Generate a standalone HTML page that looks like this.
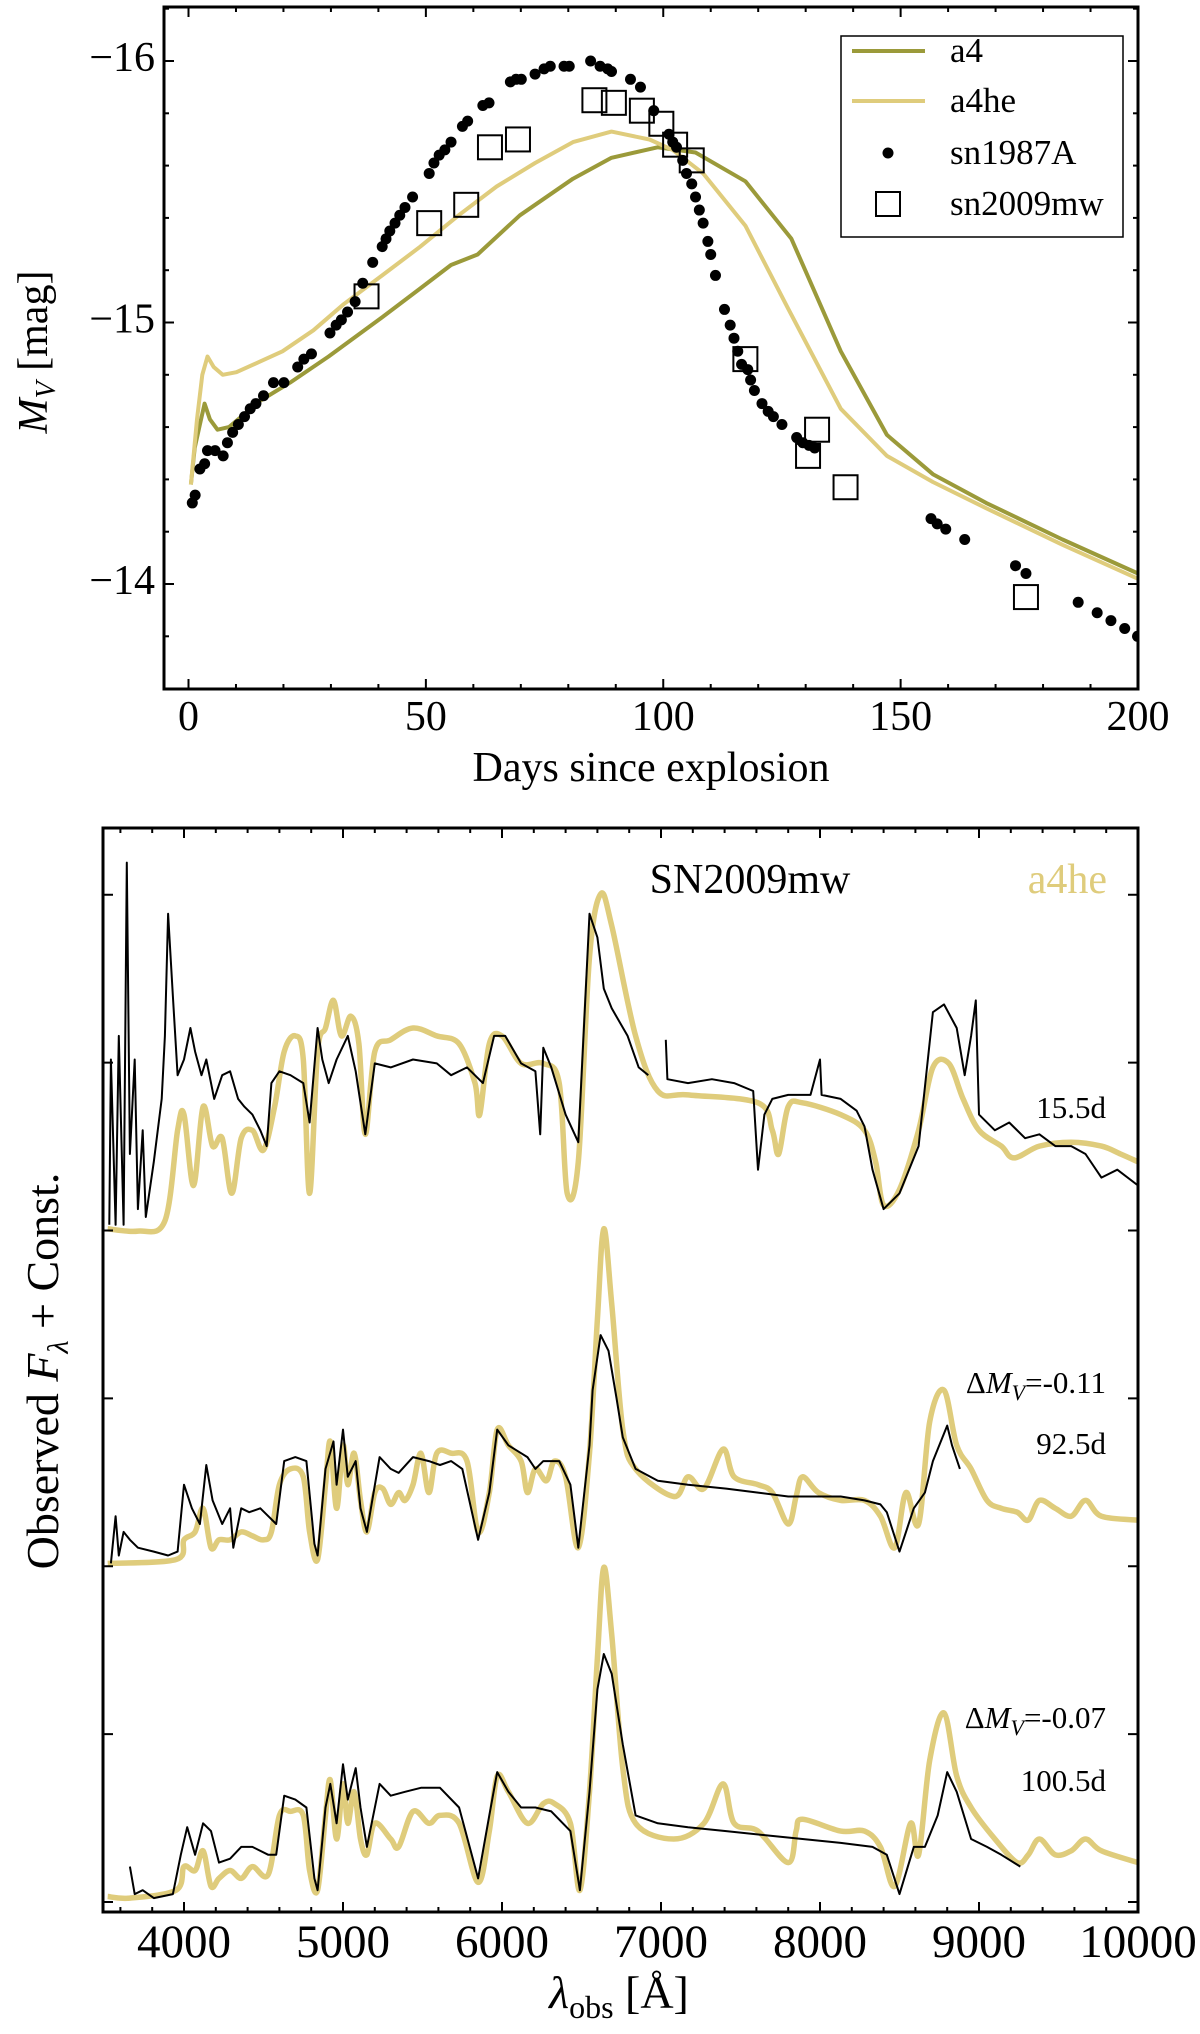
<!DOCTYPE html>
<html><head><meta charset="utf-8"><style>
html,body{margin:0;padding:0;background:#fff;}
svg{display:block;font-family:"Liberation Serif",serif;}
</style></head><body>
<svg id="fig" width="1200" height="2034" viewBox="0 0 1200 2034" xmlns="http://www.w3.org/2000/svg"></svg>
<script>
// ---------- Top panel data ----------
const a4Days=[0.5,1.3,2.4,3.4,4.5,6.1,8.5,11.8,15.0,21.4,29.5,40.8,48.8,55.3,60.9,69.8,81.0,89.1,98.8,106.8,117.3,127.0,137.4,147.1,156.8,168.0,184.1,200];
const a4Mag=[-14.38,-14.52,-14.61,-14.69,-14.63,-14.59,-14.60,-14.65,-14.70,-14.77,-14.87,-15.02,-15.13,-15.22,-15.26,-15.41,-15.55,-15.63,-15.67,-15.65,-15.54,-15.32,-14.89,-14.57,-14.42,-14.31,-14.17,-14.04];
const a4heDays=[0.5,1.8,2.9,4.0,5.3,7.2,10.1,15.0,19.8,26.3,32.7,40.8,48.8,56.9,64.9,73.0,81.0,89.1,97.1,102,108.4,117.3,126.1,137.4,147.1,156.8,168.0,184.1,200];
const a4heMag=[-14.38,-14.63,-14.80,-14.87,-14.83,-14.80,-14.81,-14.85,-14.89,-14.97,-15.07,-15.18,-15.29,-15.41,-15.52,-15.61,-15.69,-15.73,-15.70,-15.66,-15.57,-15.37,-15.06,-14.67,-14.49,-14.39,-14.29,-14.15,-14.02];
const sn87Days=[0.8,1.4,2.4,3.4,4.0,5.6,7.3,8.2,9.3,10.5,11.8,13.0,14.2,15.8,17.9,20.1,23.0,24.3,25.9,29.8,31.1,32.2,33.5,35.1,36.7,38.8,40.8,41.6,42.4,43.5,44.5,45.6,47.2,50.7,51.7,52.8,54.0,55.3,57.7,58.8,62.0,63.3,67.8,69.0,70.1,73.0,74.9,76.2,79.1,80.2,84.7,86.7,88.3,89.1,93.1,95.2,98.0,101.2,102.0,102.8,104.1,104.9,106.0,106.8,107.6,108.4,109.4,110.0,111.0,112.9,114.1,114.9,115.7,116.5,117.8,118.4,119.2,120.8,122.1,123.2,125.0,128.1,129.4,130.7,131.9,156.4,157.7,159.5,163.5,174.2,176.4,187.4,191.4,194.3,197.2,199.9];
const sn87Mag=[-14.31,-14.34,-14.44,-14.46,-14.51,-14.51,-14.49,-14.54,-14.58,-14.61,-14.64,-14.67,-14.69,-14.72,-14.77,-14.77,-14.83,-14.86,-14.88,-14.96,-14.99,-15.01,-15.04,-15.08,-15.15,-15.23,-15.29,-15.32,-15.35,-15.38,-15.41,-15.44,-15.48,-15.57,-15.61,-15.64,-15.66,-15.69,-15.75,-15.77,-15.83,-15.84,-15.92,-15.93,-15.93,-15.95,-15.97,-15.98,-15.98,-15.98,-16.00,-15.98,-15.97,-15.96,-15.93,-15.90,-15.81,-15.72,-15.69,-15.67,-15.62,-15.57,-15.53,-15.48,-15.43,-15.38,-15.31,-15.26,-15.18,-15.05,-14.99,-14.94,-14.89,-14.84,-14.82,-14.78,-14.74,-14.69,-14.66,-14.64,-14.61,-14.56,-14.54,-14.53,-14.52,-14.25,-14.23,-14.21,-14.17,-14.07,-14.04,-13.93,-13.89,-13.86,-13.83,-13.80];
const sn09Days=[37.5,50.7,58.5,63.5,69.4,85.5,89.6,95.5,99.6,102.5,106.0,117.3,130.5,132.4,138.4,176.4];
const sn09Mag=[-15.10,-15.38,-15.45,-15.67,-15.70,-15.85,-15.84,-15.81,-15.76,-15.68,-15.62,-14.86,-14.49,-14.59,-14.37,-13.95];
const dayTicks=[0,50,100,150,200];
const magTicks=[-16,-15,-14];

// ---------- Bottom panel data (flux in arbitrary units) ----------
const m1W=[3520,3710,3880,3960,4000,4060,4120,4180,4240,4300,4360,4430,4500,4570,4630,4700,4750,4790,4840,4890,4940,4990,5050,5100,5140,5200,5300,5440,5590,5730,5830,5860,5920,6000,6120,6260,6360,6410,6480,6550,6620,6690,6840,6980,7170,7610,7700,7740,7800,7890,8130,8280,8350,8400,8500,8620,8710,8810,8900,9000,9140,9220,9380,9580,9770,9890,10000];
const m1F=[85.5,85.2,86.5,98,100,91,101,96,97,90,97,98,95.5,101,108,110,107,90,108,111,114.5,110,112.5,109,97.5,108,109.5,111,110,109,104,100,109,110,106.5,106.5,104,90,94,120,128,124,110,103,102.5,101.5,98,95,101,101.5,100,98,94,88.5,90.5,98,106,106.5,102,98,96,94.5,96,96.5,96,95,94];
const o1W=[3530,3540,3570,3590,3620,3640,3660,3690,3710,3740,3760,3810,3860,3880,3900,3930,3960,4000,4040,4070,4110,4140,4190,4240,4290,4340,4380,4430,4480,4520,4550,4600,4670,4750,4790,4840,4870,4910,4960,5030,5080,5140,5200,5300,5440,5590,5680,5780,5880,5950,6020,6120,6210,6240,6260,6310,6400,6480,6550,6600,6640,6690,6790,6860,6920,null,7030,7040,7170,7320,7460,7580,7610,7650,7700,7800,7940,8000,8010,8130,8230,8280,8330,8400,8500,8620,8710,8780,8860,8910,8950,8980,9000,9100,9190,9290,9380,9480,9580,9670,9770,9870,10000];
const o1F=[86,107,86,110,86,132,95,107,88,98,87,94,102,110,125.5,115,105,107,111,108,105,107,102,105,105.5,102,101,100,98,96,104,105.5,105,104,99,111,107,104,107,110,105.5,97.5,106.5,106,107,106.5,105,106,104,110,110,106.5,105.5,97.5,108.5,106,100,96.5,125.5,122.5,116,113.5,110,106,105,null,109.5,104.5,104,104.5,104,103,93,100,102,102.5,102.5,107,102.5,102,100.5,98.5,93,88,90,96,113,114,111,105,110,114.5,100,98,99,97,97.5,96,96,95,92,93,91];
const m2W=[3520,3950,4000,4070,4120,4170,4220,4290,4360,4430,4500,4550,4600,4670,4750,4790,4840,4890,4920,4960,5000,5030,5070,5110,5150,5200,5250,5300,5350,5390,5440,5490,5540,5590,5680,5780,5850,5920,5970,6040,6120,6160,6210,6280,6330,6400,6480,6550,6600,6640,6690,6760,6840,7080,7170,7270,7390,7460,7610,7700,7800,7850,7890,7990,8130,8280,8380,8470,8540,8620,8690,8780,8860,8950,9050,9140,9240,9310,9380,9480,9580,9670,9770,10000];
const m2F=[43,43.5,46,47,50,45,46,46,47,46.5,46,47,53,55,54,47,43.5,53,58.5,50,58,53,57,51,47,52,52.5,50.5,52,51,53,57,52,57,57,56,47,52,60,58,56,52,55,53.5,56,54,45,57,74,85.5,76,60,55,51.5,54,52.5,57.5,54,53,52,48,51.5,54,52,51,51,49,45,52,48,61,65,58,55,51,50,49.5,48.5,51,50,49,51,49,48.5];
const o2W=[3540,3570,3590,3620,3660,3710,3810,3900,3960,4000,4050,4100,4140,4180,4240,4290,4310,4360,4410,4480,4530,4580,4630,4700,4770,4820,4840,4890,4940,4960,5000,5030,5080,5110,5150,5230,5300,5350,5440,5540,5610,5680,5750,5850,5920,5970,6040,6120,6160,6210,6260,6360,6430,6480,6550,6570,6620,6670,6720,6760,6840,6980,7170,7410,7610,7800,7940,8130,8280,8380,8420,8500,8590,8660,8710,8800,8830,8880];
const o2F=[43,49,44,47,46,45,44.5,44,44.5,53,50,48,55.5,51,48,50,45,50,49.5,50,49,48,56,56.5,56,45.5,44,55,58.5,53,60,54,56,50,47,56.5,55,54.5,56.5,56,55.5,56,55,46,52,60,58,57,56.5,55,56,56,53,45,58,65,72,70,64,59,55,53.5,53,52.5,52,51.5,51.5,51.5,51,50.5,49.5,44.5,50,52,56,60.5,58,55];
const m3W=[3520,3660,3950,4000,4070,4120,4170,4220,4290,4360,4430,4530,4600,4670,4750,4790,4840,4890,4920,4960,5000,5030,5070,5110,5150,5200,5300,5350,5440,5540,5610,5730,5850,5920,5970,6040,6160,6260,6330,6430,6490,6550,6600,6640,6690,6760,6840,7080,7270,7390,7460,7610,7800,7850,7890,8130,8280,8380,8470,8570,8620,8690,8780,8860,8950,9100,9240,9310,9380,9480,9580,9670,9770,10000];
const m3F=[0.7,0.5,1.5,4.5,4,6.5,2,3,4,3,4.5,3.5,11,11.5,11,4,1.5,11,15.5,8,15,10,14,8,6,10,8,7,11.5,10,11,10,2.5,9,16,14,10,12.5,12.5,10,1.5,14,31,42.5,34,17,10,8,10,15,10,9,5,9,10.5,9,9,7,2,10,6,18,24,16,12,8,5,6,8,6,6.5,8,6.5,5];
const o3W=[3660,3690,3740,3810,3930,3980,4020,4070,4120,4170,4220,4290,4360,4430,4530,4580,4630,4700,4770,4820,4840,4890,4920,4960,5000,5030,5080,5110,5150,5230,5300,5390,5490,5610,5730,5850,5920,5970,6040,6120,6210,6310,6430,6490,6550,6600,6640,6690,6760,6840,6980,7170,7410,7650,7890,8130,8330,8420,8500,8590,8660,8740,8800,8860,8950,9050,9140,9260];
const o3F=[4.5,1,1.5,0.5,1,6,9.5,6,10,9,5,5.5,7,7,6,6,13.5,13,12,3,1.5,12,15,10,17.5,13,17,12,7,15,13.5,14,14.5,14.5,12,3,11,16.5,14,12,12,11.5,9,1.5,14,27,31.5,29,20,11,10,9.5,9,8.5,8,7.5,7,6,1,7,7,11,16.5,14,8,7,6,4.5];
const offsets=[0,0,0];
const waveTicks=[4000,5000,6000,7000,8000,9000,10000];

const NS="http://www.w3.org/2000/svg";
const svgRoot=document.getElementById('fig');
function mk(tag,attrs,parent){const e=document.createElementNS(NS,tag);for(const k in attrs)e.setAttribute(k,attrs[k]);(parent||svgRoot).appendChild(e);return e;}
function linePath(xs,ys,fx,fy){let d='',pen=false;for(let i=0;i<xs.length;i++){if(xs[i]===null||ys[i]===null){pen=false;continue;}d+=(pen?'L':'M')+fx(xs[i]).toFixed(1)+' '+fy(ys[i]).toFixed(1);pen=true;}return d;}
function smoothPath(xs,ys,fx,fy){
 const P=xs.map((x,i)=>[fx(x),fy(ys[i])]);let d='M'+P[0][0].toFixed(1)+' '+P[0][1].toFixed(1);
 for(let i=0;i<P.length-1;i++){const p0=P[Math.max(0,i-1)],p1=P[i],p2=P[i+1],p3=P[Math.min(P.length-1,i+2)];
  const c1=[p1[0]+(p2[0]-p0[0])/6,p1[1]+(p2[1]-p0[1])/6],c2=[p2[0]-(p3[0]-p1[0])/6,p2[1]-(p3[1]-p1[1])/6];
  d+='C'+c1[0].toFixed(1)+' '+c1[1].toFixed(1)+' '+c2[0].toFixed(1)+' '+c2[1].toFixed(1)+' '+p2[0].toFixed(1)+' '+p2[1].toFixed(1);}
 return d;}

// ---------- Top panel ----------
const T={l:164,r:1138,t:7,b:689};
const tx=d=>188.5+d*4.7475;
const ty=m=>61+(m+16)*261.5;
const topG=mk('g',{});


const clipT=mk('clipPath',{id:'clipT'});mk('rect',{x:T.l,y:T.t,width:T.r-T.l,height:T.b-T.t},clipT);
const gT=mk('g',{'clip-path':'url(#clipT)'},topG);
let pth=mk('path',{d:linePath(a4Days,a4Mag,tx,ty),fill:'none',stroke:'#9b9a3a','stroke-width':4,'stroke-linejoin':'round'},gT);


pth=mk('path',{d:linePath(a4heDays,a4heMag,tx,ty),fill:'none',stroke:'#dfcc7c','stroke-width':4,'stroke-linejoin':'round'},gT);


for(let i=0;i<sn87Days.length;i++){const c=mk('circle',{cx:tx(sn87Days[i]),cy:ty(sn87Mag[i]),r:5.5,fill:'#000'},gT);

}
for(let i=0;i<sn09Days.length;i++){const s=mk('rect',{x:tx(sn09Days[i])-12,y:ty(sn09Mag[i])-12,width:24,height:24,fill:'none',stroke:'#000','stroke-width':2},gT);

}
for(let d=0;d<=200;d+=10){const maj=d%50===0,L=maj?10:5;
mk('line',{x1:tx(d),x2:tx(d),y1:T.b,y2:T.b-L,stroke:'#000','stroke-width':2},topG);
mk('line',{x1:tx(d),x2:tx(d),y1:T.t,y2:T.t+L,stroke:'#000','stroke-width':2},topG);}
for(let k=0;k<=13;k++){const m=-16.2+k*0.2;const maj=Math.abs(m-Math.round(m))<1e-6,L=maj?10:5;const y=ty(m);if(y<T.t+1||y>T.b-1)continue;
mk('line',{x1:T.l,x2:T.l+L,y1:y,y2:y,stroke:'#000','stroke-width':2},topG);
mk('line',{x1:T.r,x2:T.r-L,y1:y,y2:y,stroke:'#000','stroke-width':2},topG);}
mk('rect',{x:T.l,y:T.t,width:T.r-T.l,height:T.b-T.t,fill:'none',stroke:'#000','stroke-width':3},topG);
dayTicks.forEach(d=>{const e=mk('text',{x:tx(d),y:730,'font-size':42,'text-anchor':'middle'},topG);e.textContent=d;

});
magTicks.forEach(m=>{const e=mk('text',{x:155,y:ty(m)+10,'font-size':42,'text-anchor':'end'},topG);e.textContent='\u2212'+Math.abs(m);

});
let txt=mk('text',{x:651,y:781,'font-size':42,'text-anchor':'middle'},topG);txt.textContent='Days since explosion';


txt=mk('text',{x:0,y:0,'font-size':42,'text-anchor':'middle',transform:'translate(47,352) rotate(-90)'},topG);
txt.innerHTML='<tspan font-style="italic">M</tspan><tspan font-style="italic" font-size="28" dy="8">V</tspan><tspan dy="-8"> [mag]</tspan>';


const lg=mk('g',{},topG);


mk('rect',{x:841,y:36,width:282,height:201,fill:'#fff',stroke:'#000','stroke-width':1.5},lg);
const legY=[51,101,153,204],legN=['a4','a4he','sn1987A','sn2009mw'];
mk('line',{x1:852,x2:925,y1:legY[0],y2:legY[0],stroke:'#9b9a3a','stroke-width':4},lg);
mk('line',{x1:852,x2:925,y1:legY[1],y2:legY[1],stroke:'#dfcc7c','stroke-width':4},lg);
mk('circle',{cx:888,cy:legY[2],r:5.5,fill:'#000'},lg);
mk('rect',{x:876,y:legY[3]-12,width:24,height:24,fill:'none',stroke:'#000','stroke-width':2},lg);
legN.forEach((n,i)=>{const e=mk('text',{x:950,y:legY[i]+11,'font-size':35},lg);e.textContent=n;

});

// ---------- Bottom panel ----------
const B={l:103,r:1138,t:828,b:1912};
const bx=w=>184+(w-4000)*0.159;
const by=f=>1902-f*7.874;
const botG=mk('g',{});


const clipB=mk('clipPath',{id:'clipB'});mk('rect',{x:B.l,y:B.t,width:B.r-B.l,height:B.b-B.t},clipB);
const gB=mk('g',{'clip-path':'url(#clipB)'},botG);
const sets=[[m1W,m1F,o1W,o1F,'15.5d'],[m2W,m2F,o2W,o2F,'92.5d'],[m3W,m3F,o3W,o3F,'100.5d']];
sets.forEach((s,i)=>{
 const mp=mk('path',{d:smoothPath(s[0],s[1],bx,f=>by(f+offsets[i])),fill:'none',stroke:'#dfcc7c','stroke-width':5.5,'stroke-linejoin':'round'},gB);
 
 
 const op=mk('path',{d:linePath(s[2],s[3],bx,f=>by(f+offsets[i])),fill:'none',stroke:'#000','stroke-width':2,'stroke-linejoin':'round'},gB);
 
 
});
for(let w=3600;w<=10000;w+=200){const maj=w%1000===0,L=maj?10:5;
mk('line',{x1:bx(w),x2:bx(w),y1:B.b,y2:B.b-L,stroke:'#000','stroke-width':2},botG);
mk('line',{x1:bx(w),x2:bx(w),y1:B.t,y2:B.t+L,stroke:'#000','stroke-width':2},botG);}
for(let k=0;k<=6;k++){const y=by(k*21.32);
mk('line',{x1:B.l,x2:B.l+10,y1:y,y2:y,stroke:'#000','stroke-width':2},botG);
mk('line',{x1:B.r,x2:B.r-10,y1:y,y2:y,stroke:'#000','stroke-width':2},botG);}
mk('rect',{x:B.l,y:B.t,width:B.r-B.l,height:B.b-B.t,fill:'none',stroke:'#000','stroke-width':3},botG);
waveTicks.forEach(w=>{const e=mk('text',{x:bx(w),y:1957,'font-size':47,'text-anchor':'middle'},botG);e.textContent=w;

});
txt=mk('text',{x:619,y:2008,'font-size':46,'text-anchor':'middle'},botG);
txt.innerHTML='<tspan font-style="italic">λ</tspan><tspan font-size="32" dy="10">obs</tspan><tspan dy="-10"> [Å]</tspan>';


txt=mk('text',{x:0,y:0,'font-size':46,'text-anchor':'middle',transform:'translate(58,1371) rotate(-90)'},botG);
txt.innerHTML='Observed <tspan font-style="italic">F</tspan><tspan font-style="italic" font-size="30" dy="10">λ</tspan><tspan dy="-10"> + Const.</tspan>';


txt=mk('text',{x:750,y:893,'font-size':42,'text-anchor':'middle'},botG);txt.textContent='SN2009mw';


txt=mk('text',{x:1107,y:893,'font-size':42,'text-anchor':'end',fill:'#dfcc7c'},botG);txt.textContent='a4he';


const ann=[['15.5d',1118],['92.5d',1454],['100.5d',1791]];
ann.forEach(a=>{const e=mk('text',{x:1106,y:a[1],'font-size':31,'text-anchor':'end'},botG);e.textContent=a[0];

});
const dm=[['-0.11',1393],['-0.07',1728]];
dm.forEach(a=>{const e=mk('text',{x:1106,y:a[1],'font-size':31,'text-anchor':'end'},botG);
e.innerHTML='Δ<tspan font-style="italic">M</tspan><tspan font-style="italic" font-size="22" dy="7">V</tspan><tspan dy="-7">='+a[0]+'</tspan>';

});
</script>
</body></html>
